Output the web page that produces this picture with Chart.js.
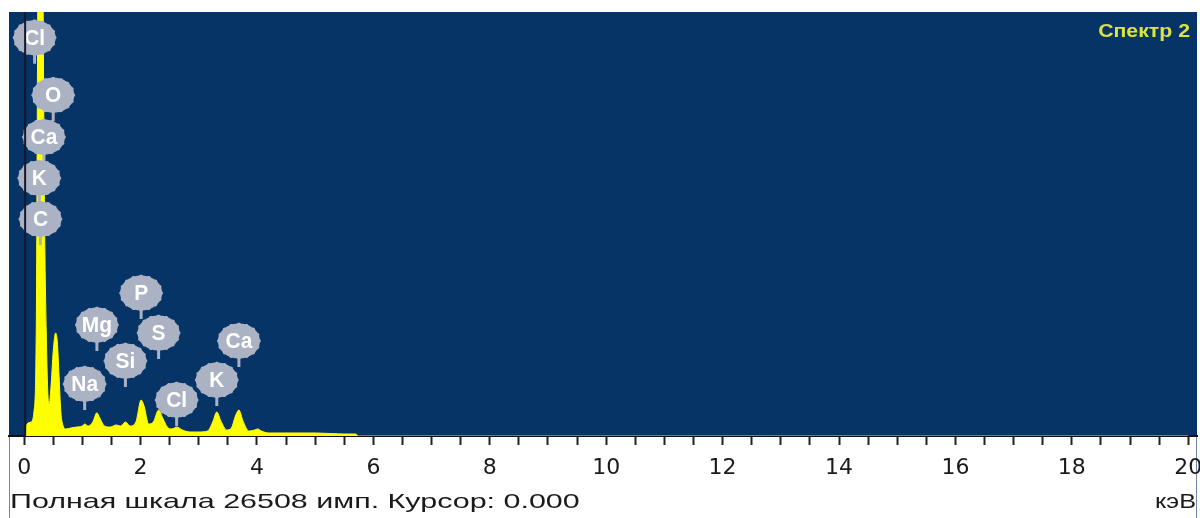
<!DOCTYPE html>
<html>
<head>
<meta charset="utf-8">
<script src="https://cdn.jsdelivr.net/npm/chart.js@4"></script>
<style>
  body { margin: 0; background: #fff; }
  canvas { display: block; }
</style>
</head>
<body>
<canvas id="spectrum" width="1200" height="518"></canvas>
<script>
// spectrum (keV / counts)
let energy = [0, 0.02, 0.05, 0.12, 0.17, 0.21, 0.24, 0.28, 0.32, 0.35, 0.38, 0.41, 0.43, 0.46, 0.50, 0.54, 0.57, 0.60, 0.63, 0.67, 0.72,
  0.80, 0.90, 1.00, 1.04, 1.10, 1.18, 1.25, 1.30, 1.38, 1.48, 1.58, 1.66, 1.74, 1.82, 1.92, 2.01, 2.06, 2.14, 2.22, 2.31, 2.38,
  2.46, 2.54, 2.62, 2.72, 2.85, 3.00, 3.15, 3.24, 3.31, 3.38, 3.48, 3.56, 3.63, 3.69, 3.76, 3.86, 3.96, 4.01, 4.08, 4.20, 4.40,
  5.00, 5.50, 5.70, 5.74, 20];
let counts = [0, 0, 750, 875, 1560, 7500, 31250, 43750, 30000, 14000, 6500, 2500, 2000, 3000, 5300, 6440, 5900, 3750, 1560, 625, 440,
  500, 560, 625, 750, 625, 875, 1450, 1125, 625, 560, 690, 625, 875, 625, 875, 2250, 1875, 750, 875, 1625, 1125,
  560, 440, 560, 375, 250, 250, 310, 875, 1500, 940, 375, 500, 1250, 1625, 940, 310, 375, 440, 310, 190, 190,
  190, 125, 125, 0, 0];

let fullScale = 26508;
let cursor = 0.000;
let tickLabels = ['0', '2', '4', '6', '8', '10', '12', '14', '16', '18', '20'];

// element markers: name, line energy (keV), level of the label (counts)
let markerNames = ['Cl', 'O', 'Ca', 'K', 'C', 'Na', 'Mg', 'Si', 'P', 'S', 'Cl', 'K', 'Ca'];
let markerEnergy = [0.18, 0.50, 0.34, 0.26, 0.28, 1.04, 1.25, 1.74, 2.01, 2.31, 2.62, 3.31, 3.69];
let markerLevel = [24900, 21310, 18690, 16125, 13560, 3250, 6940, 4690, 8940, 6440, 2250, 3500, 5940];

let blue = '#073466';

let backdrop = {
  id: 'backdrop',
  beforeDraw(chart) {
    let { ctx, chartArea: a } = chart;
    ctx.save();
    ctx.fillStyle = blue;
    ctx.fillRect(a.left, a.top, a.right - a.left, a.bottom - a.top);
    ctx.strokeStyle = '#6f86a8';
    ctx.lineWidth = 1;
    ctx.beginPath();
    ctx.moveTo(a.left + 0.5, a.bottom); ctx.lineTo(a.left + 0.5, chart.height);
    ctx.moveTo(a.right - 0.5, a.bottom); ctx.lineTo(a.right - 0.5, chart.height);
    ctx.stroke();
    ctx.restore();
  }
};

function badge(ctx, x, y, text) {
  let rx = 21, ry = 17.5, n = 16;
  ctx.fillStyle = '#aab2c3';
  ctx.fillRect(x - 1.5, y, 3, 26);
  ctx.beginPath();
  for (let i = 0; i <= 200; i++) {
    let t = i / 200 * Math.PI * 2;
    let r = 1 + 0.045 * Math.max(0, Math.cos(n * t));
    let px = x + Math.cos(t) * rx * r, py = y + Math.sin(t) * ry * r;
    if (i === 0) ctx.moveTo(px, py); else ctx.lineTo(px, py);
  }
  ctx.closePath();
  ctx.fill();
  ctx.fillStyle = '#ffffff';
  ctx.font = 'bold 22px "Liberation Sans", Arial, sans-serif';
  ctx.textAlign = 'center';
  ctx.textBaseline = 'middle';
  ctx.save();
  ctx.translate(x, y + 1);
  ctx.scale(0.95, 1);
  ctx.fillText(text, 0, 0);
  ctx.restore();
}

let overlay = {
  id: 'overlay',
  afterDatasetsDraw(chart) {
    let { ctx, chartArea: a, scales: { x, y } } = chart;
    ctx.save();
    ctx.beginPath();
    ctx.rect(a.left, a.top, a.right - a.left, a.bottom - a.top);
    ctx.clip();
    markerNames.forEach((name, i) => {
      badge(ctx, x.getPixelForValue(markerEnergy[i]), y.getPixelForValue(markerLevel[i]), name);
    });
    // cursor line
    let cx = x.getPixelForValue(cursor);
    ctx.fillStyle = '#15182a';
    ctx.fillRect(cx, a.top, 2, a.bottom - a.top);
    ctx.restore();

    // title and footer text (screenshot is stretched horizontally)
    ctx.save();
    ctx.font = 'bold 19px "Liberation Sans", Arial, sans-serif';
    ctx.fillStyle = '#dbe43c';
    ctx.textBaseline = 'alphabetic';
    let title = 'Спектр 2';
    let tw = ctx.measureText(title).width * 1.12;
    ctx.translate(a.right - 7 - tw, a.top + 25);
    ctx.scale(1.12, 1);
    ctx.fillText(title, 0, 0);
    ctx.restore();

    ctx.save();
    ctx.font = '21px "Liberation Sans", Arial, sans-serif';
    ctx.fillStyle = '#1a1a1a';
    let foot = 'Полная шкала ' + fullScale + ' имп. Курсор: ' + cursor.toFixed(3);
    ctx.translate(a.left + 1, 508);
    ctx.scale(1.45, 1);
    ctx.fillText(foot, 0, 0);
    ctx.restore();

    ctx.save();
    ctx.font = '21px "Liberation Sans", Arial, sans-serif';
    ctx.fillStyle = '#1a1a1a';
    let unit = 'кэВ';
    let uw = ctx.measureText(unit).width * 1.2;
    ctx.translate(a.right - 1 - uw, 508);
    ctx.scale(1.2, 1);
    ctx.fillText(unit, 0, 0);
    ctx.restore();
  }
};

let ctx = document.getElementById('spectrum').getContext('2d');
let points = energy.map((e, i) => ({ x: e, y: counts[i] }));

let chart = new Chart(ctx, {
  type: 'line',
  data: {
    datasets: [{
      data: points,
      borderColor: '#ffff00',
      backgroundColor: '#ffff00',
      borderWidth: 1,
      fill: 'origin',
      pointRadius: 0,
      cubicInterpolationMode: 'monotone'
    }]
  },
  plugins: [backdrop, overlay],
  options: {
    responsive: false,
    animation: false,
    layout: { padding: { left: 9, right: 3, top: 12, bottom: 0 } },
    plugins: { legend: { display: false }, tooltip: { enabled: false } },
    scales: {
      x: {
        type: 'linear',
        min: -0.26,
        max: 20.15,
        afterBuildTicks(scale) {
          let t = [];
          for (let v = 0; v <= 20; v += 0.5) t.push({ value: v });
          scale.ticks = t;
        },
        afterFit(scale) {
          scale.height = 82;
          scale.paddingLeft = 0;
          scale.paddingRight = 0;
        },
        border: { display: true, color: '#111', width: 2 },
        grid: { drawOnChartArea: false, drawTicks: true, tickLength: 9, tickColor: '#222', tickWidth: 2 },
        ticks: {
          autoSkip: false,
          maxRotation: 0,
          padding: 10,
          color: '#1a1a1a',
          font: { family: '"DejaVu Sans", sans-serif', size: 22 },
          callback: (v) => {
            let s = String(v);
            return tickLabels.includes(s) ? s : '';
          }
        }
      },
      y: {
        display: false,
        min: 0,
        max: fullScale
      }
    }
  }
});
</script>
</body>
</html>
